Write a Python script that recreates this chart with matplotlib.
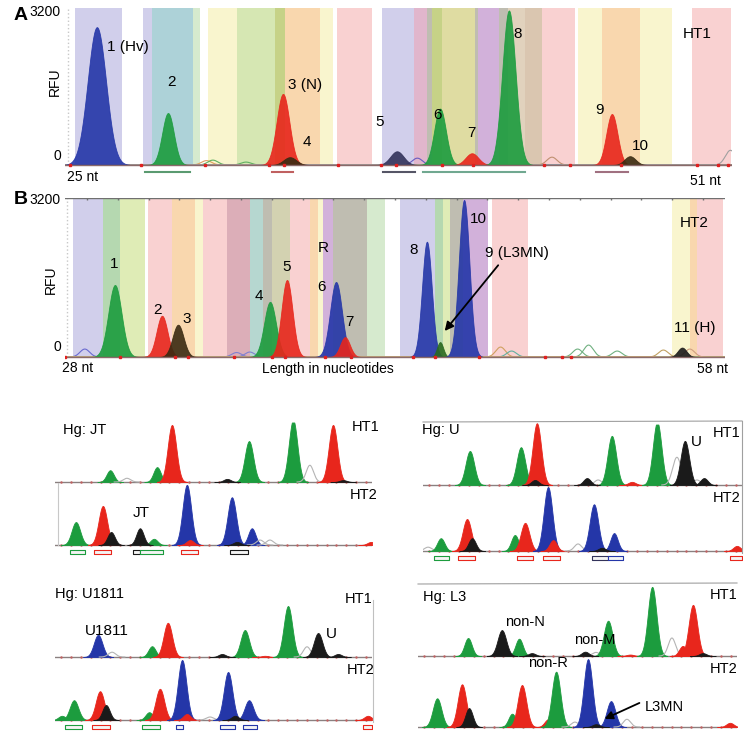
import numpy as np
import matplotlib
matplotlib.use('Agg')
import matplotlib.pyplot as plt

plt.rcParams['font.family'] = ['Liberation Sans', 'DejaVu Sans']

# ---------------- colours ----------------
COL = {'B': '#2436a8', 'G': '#1c9c3e', 'R': '#e8261c', 'K': '#1a1a1a',
       'k': '#3a2a12', 'g': '#2a6a20', 'O': '#b4b4b4', 'N': '#33335a'}
BAND = {'lav': '#c9c7e8', 'teal': '#9fcbd2', 'lgr': '#cfe7c6', 'ylw': '#f8f4c6',
        'grn': '#cfe3a6', 'olv': '#bccb72', 'org': '#f9d0a0', 'pnk': '#f8c9c9',
        'mve': '#dcaac4', 'gry': '#b4b2a4', 'kha': '#dad692', 'pur': '#caa4d4',
        'tan': '#dccab2', 'brn': '#d4bca2', 'gr2': '#a8d2a2', 'ygr': '#dae9aa',
        'mv2': '#d6a0ac', 'tl2': '#aad0c8', 'kh2': '#cccaa4'}

# ---------------- Panel A data (HT1, 25-51 nt) ----------------
A_PEAK_NT = [26.25, 29.04, 33.55, 33.82, 38.02, 39.71, 40.96, 42.41, 46.45, 47.16]
A_PEAK_RFU = [2810, 1060, 1450, 160, 280, 1150, 240, 3150, 1040, 180]
A_PEAK_SD = [0.36, 0.23, 0.25, 0.25, 0.26, 0.23, 0.25, 0.26, 0.22, 0.22]
A_PEAK_COL = ['B', 'G', 'R', 'k', 'N', 'G', 'R', 'G', 'R', 'k']
A_PEAK_LBL = ['1 (Hv)', '2', '3 (N)', '4', '5', '6', '7', '8', '9', '10']
A_BAND_L = [25.39, 28.06, 28.41, 30.02, 30.61, 31.75, 33.24, 33.63, 35.00, 35.67,
            37.43, 38.69, 39.20, 39.39, 39.78, 41.08, 41.20, 42.02, 42.37, 43.04,
            43.71, 45.12, 46.06, 47.55, 49.59]
A_BAND_R = [27.24, 28.41, 30.02, 30.29, 31.75, 33.24, 33.63, 35.00, 35.51, 37.04,
            38.69, 39.20, 39.39, 39.78, 41.08, 41.20, 42.02, 42.37, 43.04, 43.71,
            45.00, 46.06, 47.55, 48.80, 51.12]
A_BAND_C = ['lav', 'lav', 'teal', 'lgr', 'ylw', 'grn', 'olv', 'org', 'ylw', 'pnk',
            'lav', 'mve', 'gry', 'olv', 'kha', 'gry', 'pur', 'gry', 'tan', 'brn',
            'pnk', 'ylw', 'org', 'ylw', 'pnk']
A_NOISE_NT = [30.55, 30.80, 32.10, 38.82, 44.10, 51.10]
A_NOISE_RFU = [90, 100, 60, 140, 160, 300]
A_NOISE_C = ['#e0a060', '#60b060', '#60b060', '#6a5cc0', '#c09070', '#a0a0a0']
A_BIN_L = [28.14, 33.12, 37.47, 39.04, 45.82]
A_BIN_R = [29.90, 33.94, 38.73, 43.04, 47.08]
A_BIN_C = ['#5a9a70', '#c06060', '#555566', '#70a890', '#a07080']
A_DOTS = [25.2, 28.0, 30.5, 33.0, 33.6, 35.7, 37.4, 38.0, 39.8, 41.0, 43.8, 44.8, 46.8, 49.8, 50.6, 51.0]

# ---------------- Panel B data (HT2, 28-58 nt) ----------------
B_PEAK_NT = [30.27, 32.41, 33.14, 37.32, 38.09, 40.32, 40.73, 44.45, 45.05, 46.14, 56.05]
B_PEAK_RFU = [1450, 830, 650, 1110, 1550, 1510, 400, 2320, 300, 3160, 190]
B_PEAK_SD = [0.30, 0.25, 0.25, 0.27, 0.25, 0.27, 0.22, 0.22, 0.14, 0.24, 0.20]
B_PEAK_COL = ['G', 'R', 'k', 'G', 'R', 'B', 'R', 'B', 'g', 'B', 'K']
B_BAND_L = [28.36, 29.73, 30.50, 31.77, 32.86, 33.91, 34.27, 35.36, 36.41, 37.00,
            37.41, 38.23, 39.14, 39.50, 39.73, 40.18, 41.73, 43.23, 44.82, 45.18,
            45.50, 46.09, 47.41, 55.59, 56.41, 56.73]
B_BAND_R = [29.73, 30.50, 31.64, 32.86, 33.91, 34.27, 35.36, 36.41, 37.00, 37.41,
            38.23, 39.14, 39.50, 39.73, 40.18, 41.73, 42.55, 44.82, 45.18, 45.50,
            46.09, 47.23, 49.05, 56.41, 56.73, 57.91]
B_BAND_C = ['lav', 'gr2', 'ygr', 'pnk', 'org', 'ylw', 'pnk', 'mv2', 'tl2', 'gry',
            'kh2', 'pnk', 'org', 'ylw', 'pur', 'gry', 'lgr', 'lav', 'gr2', 'ygr',
            'gry', 'pur', 'pnk', 'ylw', 'org', 'pnk']
B_NOISE_NT = [28.9, 35.8, 36.4, 47.8, 48.3, 51.3, 51.8, 53.1, 55.2, 56.4]
B_NOISE_RFU = [160, 90, 100, 200, 120, 160, 240, 120, 140, 160]
B_NOISE_C = ['#6a6ad0', '#8080d0', '#8080d0', '#d0a060', '#60b0a0', '#70b080',
             '#70b080', '#70b080', '#c0a060', '#d0a080']

# ---------------- Bottom panels: positions in % of track, heights in % ----------------
JT1_X = [17.4, 22.7, 32.2, 36.9, 54.3, 61.2, 75.1, 80.4, 87.7, 90.9]
JT1_H = [19, 6, 24, 92, 5, 66, 100, 27, 92, 3]
JT1_C = ['G', 'O', 'G', 'R', 'K', 'G', 'G', 'O', 'R', 'K']
JT2_X = [6.6, 15.1, 17.7, 26.8, 31.2, 41.6, 42.6, 55.8, 57.4, 62.1, 64.7, 67.8, 99.7]
JT2_H = [37, 63, 21, 27, 10, 97, 8, 77, 5, 27, 8, 8, 5]
JT2_C = ['G', 'R', 'K', 'K', 'G', 'B', 'R', 'B', 'K', 'B', 'O', 'O', 'R']

U1_X = [14.7, 30.7, 35.1, 35.7, 51.4, 54.9, 59.2, 65.5, 73.4, 79.6, 82.1, 85.9, 88.1]
U1_H = [54, 60, 8, 98, 11, 8, 78, 5, 100, 44, 70, 8, 11]
U1_C = ['G', 'G', 'K', 'R', 'K', 'O', 'G', 'R', 'G', 'O', 'K', 'O', 'K']
U2_X = [1.6, 5.6, 13.8, 15.4, 28.8, 32.0, 39.2, 40.8, 48.6, 53.6, 56.1, 59.9, 98.4]
U2_H = [6, 20, 50, 20, 25, 44, 100, 17, 11, 73, 5, 28, 8]
U2_C = ['O', 'G', 'R', 'K', 'G', 'R', 'B', 'R', 'O', 'B', 'K', 'B', 'R']

V1_X = [13.6, 18.0, 30.6, 35.6, 52.7, 59.9, 66.2, 73.5, 79.5, 83.0, 89.3]
V1_H = [37, 8, 18, 57, 5, 45, 2, 85, 17, 40, 5]
V1_C = ['B', 'O', 'G', 'R', 'K', 'G', 'R', 'G', 'O', 'K', 'K']
V2_X = [2.2, 6.0, 14.2, 16.1, 29.7, 33.1, 40.1, 41.6, 48.9, 54.6, 56.8, 61.2, 98.7]
V2_H = [7, 33, 48, 25, 13, 52, 100, 10, 5, 80, 7, 33, 7]
V2_C = ['G', 'G', 'R', 'K', 'G', 'R', 'B', 'R', 'O', 'B', 'K', 'B', 'R']

L1_X = [15.7, 26.3, 31.7, 35.7, 52.4, 55.8, 59.6, 66.5, 73.4, 79.6, 83.0, 86.2, 89.3]
L1_H = [25, 36, 24, 4, 6, 5, 49, 2, 96, 25, 14, 71, 4]
L1_C = ['G', 'K', 'G', 'K', 'K', 'O', 'G', 'R', 'G', 'O', 'R', 'R', 'K']
L2_X = [6.0, 13.8, 16.0, 29.5, 32.6, 40.8, 43.3, 49.2, 53.3, 55.8, 60.5, 65.5, 97.8]
L2_H = [41, 61, 27, 19, 60, 11, 79, 7, 97, 4, 37, 11, 6]
L2_C = ['G', 'R', 'K', 'G', 'R', 'R', 'G', 'O', 'B', 'K', 'B', 'O', 'R']

JT_BIN_L = [4.7, 12.3, 24.6, 26.8, 39.7, 55.2]
JT_BIN_R = [9.5, 17.7, 26.8, 34.1, 45.1, 60.9]
JT_BIN_C = ['G', 'R', 'K', 'G', 'R', 'K']
U_BIN_L = [3.4, 11.0, 29.5, 37.6, 53.0, 58.0, 96.2]
U_BIN_R = [8.2, 16.3, 34.5, 42.9, 58.0, 62.7, 100.0]
U_BIN_C = ['G', 'R', 'R', 'R', 'N', 'B', 'R']
V_BIN_L = [3.2, 11.7, 27.4, 38.2, 52.1, 59.3, 97.2]
V_BIN_R = [8.5, 17.4, 33.1, 40.4, 56.8, 63.7, 100.0]
V_BIN_C = ['G', 'R', 'G', 'B', 'B', 'B', 'R']

# ---------------- figure helpers ----------------
W, H = 750, 746
fig = plt.figure(figsize=(7.5, 7.46), dpi=100)


def add_ax(x0, x1, y0, y1):
    ax = fig.add_axes([x0 / W, 1 - y1 / H, (x1 - x0) / W, (y1 - y0) / H])
    ax.set_axis_off()
    return ax


def ftext(x, y, s, **kw):
    kw.setdefault('va', 'center')
    kw.setdefault('fontsize', 10.5)
    fig.text(x / W, 1 - y / H, s, **kw)


def gauss(x, mu, h, s):
    return h * np.exp(-0.5 * ((x - mu) / s) ** 2)


def peak(ax, xs, mu, h, s, c, alpha=0.95, cap=None, z=3):
    y = gauss(xs, mu, h, s)
    if cap is not None:
        y = np.minimum(y, cap)
    m = y > h * 0.002
    if c == 'O':
        ax.plot(xs[m], y[m], color=COL['O'], lw=0.8, zorder=z)
    else:
        ax.fill_between(xs[m], 0, y[m], color=COL[c], alpha=alpha, lw=0.6,
                        edgecolor=COL[c], zorder=z)


# ---------------- Panel A ----------------
axA = add_ax(65, 732, 8, 182)
axA.set_xlim(25, 51.16)
axA.set_ylim(-346, 3200)
axA.bar(A_BAND_L, [3200] * len(A_BAND_L), width=np.array(A_BAND_R) - np.array(A_BAND_L),
        align='edge', color=[BAND[c] for c in A_BAND_C], alpha=0.85, lw=0, zorder=1)
xsA = np.linspace(25, 51.16, 4000)
for mu, h, c in zip(A_NOISE_NT, A_NOISE_RFU, A_NOISE_C):
    axA.plot(xsA, gauss(xsA, mu, h, 0.2), color=c, lw=0.8, zorder=2)
for mu, h, s, c in zip(A_PEAK_NT, A_PEAK_RFU, A_PEAK_SD, A_PEAK_COL):
    peak(axA, xsA, mu, h, s, c, alpha=0.9)
axA.plot([25, 51.16], [0, 0], color='#8a6a6a', lw=1.0, zorder=4)
axA.plot(A_DOTS, [0] * len(A_DOTS), 's', color='#e02020', ms=2, zorder=5)
for l, r, c in zip(A_BIN_L, A_BIN_R, A_BIN_C):
    axA.plot([l, r], [-150, -150], color=c, lw=1.5, zorder=4)
axA.plot([25.1, 25.1], [0, 3200], color='#c8c8c8', lw=1, ls=':', zorder=0)

ftext(14, 16, 'A', fontsize=14, fontweight='bold')
ftext(61, 12, '3200', ha='right', fontsize=10)
ftext(61, 156, '0', ha='right', fontsize=10)
ftext(55, 82, 'RFU', rotation=90, ha='center', fontsize=10)
ftext(67, 177, '25 nt', fontsize=10)
ftext(690, 181, '51 nt', fontsize=10)
A_LBL_POS = [(107, 47, 'left'), (172, 82, 'center'), (288, 85, 'left'), (307, 142, 'center'),
             (380, 122, 'center'), (437, 115, 'center'), (471, 133, 'center'),
             (518, 34, 'center'), (599, 110, 'center'), (640, 146, 'center')]
for (x, y, ha), s in zip(A_LBL_POS, A_PEAK_LBL):
    ftext(x, y, s, ha=ha, fontsize=11)
ftext(683, 34, 'HT1', fontsize=11)

# ---------------- Panel B ----------------
axB = add_ax(65, 725, 198, 365)
axB.set_xlim(28, 58)
axB.set_ylim(-161, 3200)
axB.bar(B_BAND_L, [3200] * len(B_BAND_L), width=np.array(B_BAND_R) - np.array(B_BAND_L),
        align='edge', color=[BAND[c] for c in B_BAND_C], alpha=0.85, lw=0, zorder=1)
xsB = np.linspace(28, 58, 4000)
for mu, h, c in zip(B_NOISE_NT, B_NOISE_RFU, B_NOISE_C):
    axB.plot(xsB, gauss(xsB, mu, h, 0.22), color=c, lw=0.8, zorder=2)
for mu, h, s, c in zip(B_PEAK_NT, B_PEAK_RFU, B_PEAK_SD, B_PEAK_COL):
    peak(axB, xsB, mu, h, s, c, alpha=0.9)
axB.plot([28, 58], [0, 0], color='#8a6a6a', lw=1.0, zorder=4)
axB.plot([28, 58], [3200, 3200], color='#707070', lw=1.0, zorder=4)
axB.plot(np.arange(29, 58, 1.4), [3200] * len(np.arange(29, 58, 1.4)), '|', color='#707070', ms=3, zorder=4)
axB.plot(A_DOTS, [0] * len(A_DOTS), 's', color='#e02020', ms=2, zorder=5)
axB.plot([28.1, 28.1], [0, 3200], color='#c8c8c8', lw=1, ls=':', zorder=0)
axB.annotate('', xy=(45.18, 480), xytext=(47.77, 1890),
             arrowprops=dict(arrowstyle='-|>', color='black', lw=1.3, mutation_scale=13), zorder=6)

ftext(14, 200, 'B', fontsize=14, fontweight='bold')
ftext(61, 200, '3200', ha='right', fontsize=10)
ftext(61, 347, '0', ha='right', fontsize=10)
ftext(51, 280, 'RFU', rotation=90, ha='center', fontsize=10)
ftext(62, 368, '28 nt', fontsize=10)
ftext(328, 369, 'Length in nucleotides', ha='center', fontsize=10)
ftext(697, 369, '58 nt', fontsize=10)
B_LBL = [(114, 264, '1'), (158, 310, '2'), (187, 319, '3'), (259, 296, '4'), (287, 267, '5'),
         (323, 248, 'R'), (322, 287, '6'), (349, 322, '7'), (414, 250, '8'), (478, 219, '10')]
for x, y, s in B_LBL:
    ftext(x, y, s, ha='center', fontsize=11)
ftext(485, 253, '9 (L3MN)', fontsize=11)
ftext(680, 223, 'HT2', fontsize=11)
ftext(674, 328, '11 (H)', fontsize=11)


# ---------------- bottom panels ----------------
def track(x0, x1, top, base, X, Hs, C, bins=None):
    ax = add_ax(x0, x1, top, base + 12)
    ax.set_xlim(0, 100)
    ax.set_ylim(-12 / (base - top) * 100, 100)
    xs = np.linspace(0, 100, 3000)
    for mu, h, c in zip(X, Hs, C):
        s = 1.35 if h > 30 else 1.15
        cap = 96 if h >= 100 and c == 'G' else None
        peak(ax, xs, mu, h, s, c, alpha=1.0, cap=cap, z=3 if c != 'K' else 4)
    ax.plot([0, 100], [0, 0], color='#8a8080', lw=1.0, zorder=2)
    ax.plot(np.arange(2, 100, 3.1), np.zeros(len(np.arange(2, 100, 3.1))), '.', color='#c06060', ms=1.5, zorder=2)
    if bins is not None:
        for l, r, c in zip(*bins):
            yb = -5 / (base - top) * 100
            hb = -4 / (base - top) * 100
            ax.fill_between([l, r], yb, yb + hb, facecolor='#f4f4f4', edgecolor=COL[c], lw=0.8)
    return ax


# JT
track(55, 372, 420, 482, JT1_X, JT1_H, JT1_C)
track(55, 372, 483, 545, JT2_X, JT2_H, JT2_C, (JT_BIN_L, JT_BIN_R, JT_BIN_C))
fig.add_artist(plt.Line2D([58 / W, 58 / W], [1 - 483 / H, 1 - 545 / H], color='#c8c8c8', lw=0.8))
ftext(63, 430, 'Hg: JT')
ftext(352, 427, 'HT1')
ftext(350, 495, 'HT2')
ftext(133, 513, 'JT', fontsize=11)

# U
track(423, 742, 422, 485, U1_X, U1_H, U1_C)
track(423, 742, 487, 551, U2_X, U2_H, U2_C, (U_BIN_L, U_BIN_R, U_BIN_C))
fig.add_artist(plt.Line2D([423 / W, 742 / W], [1 - 422 / H, 1 - 421 / H], color='#a0a0a0', lw=0.8))
fig.add_artist(plt.Line2D([742 / W, 742 / W], [1 - 421 / H, 1 - 553 / H], color='#a0a0a0', lw=0.8))
ftext(422, 430, 'Hg: U')
ftext(713, 433, 'HT1')
ftext(713, 498, 'HT2')
ftext(691, 442, 'U', fontsize=11)

# U1811
track(55, 372, 597, 657, V1_X, V1_H, V1_C)
track(55, 372, 660, 720, V2_X, V2_H, V2_C, (V_BIN_L, V_BIN_R, V_BIN_C))
fig.add_artist(plt.Line2D([373 / W, 373 / W], [1 - 600 / H, 1 - 722 / H], color='#c0c0c0', lw=0.8))
ftext(55, 594, 'Hg: U1811')
ftext(345, 599, 'HT1')
ftext(347, 670, 'HT2')
ftext(85, 631, 'U1811', fontsize=11)
ftext(326, 634, 'U', fontsize=11)

# L3
track(418, 737, 584, 656, L1_X, L1_H, L1_C)
axL2 = track(418, 737, 657, 727, L2_X, L2_H, L2_C)
axL2.annotate('', xy=(57.7, 10), xytext=(70.2, 36),
              arrowprops=dict(arrowstyle='-|>', color='black', lw=1.3, mutation_scale=12), zorder=6)
fig.add_artist(plt.Line2D([418 / W, 737 / W], [1 - 584 / H, 1 - 583 / H], color='#a0a0a0', lw=0.8))
ftext(423, 597, 'Hg: L3')
ftext(710, 595, 'HT1')
ftext(710, 669, 'HT2')
ftext(505, 622, 'non-N')
ftext(574, 640, 'non-M')
ftext(528, 663, 'non-R')
ftext(645, 707, 'L3MN')

fig.savefig('out.png', dpi=100)
